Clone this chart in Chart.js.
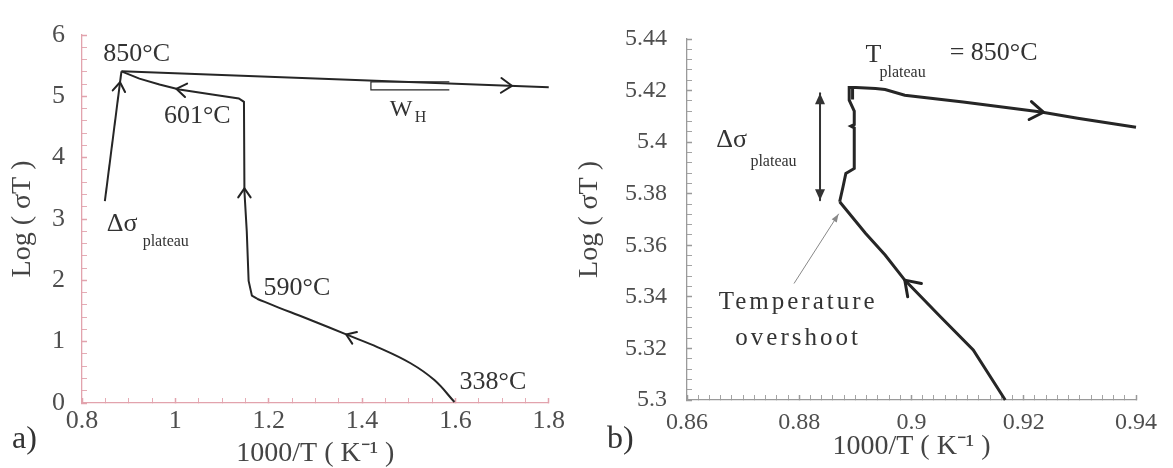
<!DOCTYPE html>
<html>
<head>
<meta charset="utf-8">
<script src="https://cdn.jsdelivr.net/npm/chart.js@4.4.1/dist/chart.umd.min.js"></script>
<style>
    html, body { margin: 0; padding: 0; background: #fff; }
    #wrap { position: relative; width: 1173px; height: 468px; overflow: hidden; }
    #boxA { position: absolute; left: 0; top: 0; width: 575px; height: 468px; }
    #boxB { position: absolute; left: 575px; top: 0; width: 598px; height: 468px; }
</style>
</head>
<body>
<div id="wrap">
    <div id="boxA"><canvas id="chartA" width="575" height="468"></canvas></div>
    <div id="boxB"><canvas id="chartB" width="598" height="468"></canvas></div>
</div>
<script>
//---------
//Данные
//---------

//Панель a: нагрев 338 -> 590 °C (плавная кривая)
const curveX_a = [1.598, 1.555, 1.504, 1.434, 1.366, 1.291, 1.264, 1.22, 1.175];
const curveY_a = [0.016, 0.373, 0.648, 0.908, 1.118, 1.35, 1.43, 1.56, 1.7];
//Панель a: 590 -> 601 -> 850 °C
const heatX_a = [1.175, 1.164, 1.157, 1.153, 1.148, 1.147, 1.136, 1.079, 1.0085, 0.966, 0.923, 0.8845];
const heatY_a = [1.7, 1.75, 1.99, 2.8, 3.45, 4.91, 4.965, 5.03, 5.111, 5.192, 5.289, 5.408];
//Панель a: участок плато
const plateauX_a = [0.849, 0.8845];
const plateauY_a = [3.29, 5.408];
//Панель a: охлаждение
const coolX_a = [0.8845, 1.3, 1.8];
const coolY_a = [5.408, 5.29, 5.15];
//Панель a: скобка W_H
const bracketX_a = [1.587, 1.419, 1.419, 1.587];
const bracketY_a = [5.235, 5.235, 5.105, 5.105];

//Панель b: подъём к плато
const lowerX_b = [0.9167, 0.911, 0.9052, 0.8988, 0.8953, 0.8918, 0.8872];
const lowerY_b = [5.3, 5.3194, 5.3322, 5.3465, 5.3562, 5.3647, 5.3769];
//Панель b: плато
const plateauX_b = [0.8872, 0.8878, 0.8883, 0.8898, 0.8898, 0.8892, 0.8898, 0.8898, 0.8889, 0.8889, 0.8895, 0.8895];
const plateauY_b = [5.3769, 5.3827, 5.3879, 5.3898, 5.4055, 5.4062, 5.4068, 5.412, 5.4163, 5.4212, 5.4212, 5.4165];
//Панель b: охлаждение
const upperX_b = [0.8889, 0.8901, 0.8936, 0.8953, 0.8988, 0.9092, 0.9231, 0.9296, 0.94];
const upperY_b = [5.4212, 5.4212, 5.4208, 5.4204, 5.4182, 5.4156, 5.4117, 5.4093, 5.4058];

//Шкалы: пределы, шаг подписей, шаг мелких делений
const axisX_a = { min: 0.8, max: 1.8, major: 0.2, minor: 0.05 };
const axisY_a = { min: 0, max: 6, major: 1, minor: 0.2 };
const axisX_b = { min: 0.86, max: 0.94, major: 0.02, minor: 0.002 };
const axisY_b = { min: 5.3, max: 5.44, major: 0.02, minor: 0.004 };

//---------
//Помощники
//---------

const SERIF = "'Liberation Serif', 'Times New Roman', serif";

const toPoints = (xs, ys) => xs.map((x, i) => ({ x, y: ys[i] }));

const isMajor = (v, ax) => Math.abs((v - ax.min) / ax.major - Math.round((v - ax.min) / ax.major)) < 1e-6;

const makeTicks = ax => {
    const res = [];
    const n = Math.round((ax.max - ax.min) / ax.minor);
    for (let i = 0; i <= n; i++) res.push({ value: +(ax.min + i * ax.minor).toFixed(6) });
    return res;
};

//Описание шкалы
const makeScale = (ax, o) => ({
    type: "linear",
    min: ax.min,
    max: ax.max,
    afterBuildTicks: s => { s.ticks = makeTicks(ax); },
    afterFit: s => { if (o.height) s.height = o.height; if (o.width) s.width = o.width; },
    border: { display: true, color: o.axisColor, width: 1.3 },
    grid: {
        drawOnChartArea: false,
        drawTicks: true,
        tickLength: -5,
        tickColor: o.axisColor,
        tickWidth: c => (c.tick && isMajor(c.tick.value, ax) ? 1.5 : 0.9)
    },
    ticks: {
        autoSkip: false,
        maxRotation: 0,
        minRotation: 0,
        padding: o.padding,
        color: "#4e4e4e",
        font: { family: SERIF, size: o.tickSize, lineHeight: 1 },
        callback: v => (isMajor(v, ax) ? String(Math.round(v * 100) / 100) : "")
    },
    title: {
        display: true,
        text: o.title,
        color: "#444",
        font: { family: SERIF, size: 28, lineHeight: 1 },
        padding: o.titlePad
    }
});

//Подписи, стрелки и указатели поверх графика
const marksPlugin = {
    id: "marks",
    afterDatasetsDraw(chart, args, opts) {
        const ctx = chart.ctx;
        const sx = chart.scales.x;
        const sy = chart.scales.y;
        const px = v => sx.getPixelForValue(v);
        const py = v => sy.getPixelForValue(v);
        ctx.save();
        //Стрелки-галочки на линиях
        (opts.chevrons || []).forEach(a => {
            const x1 = px(a.x), y1 = py(a.y), x0 = px(a.fromX), y0 = py(a.fromY);
            const ang = Math.atan2(y1 - y0, x1 - x0);
            const len = a.len, spread = 0.6;
            ctx.strokeStyle = "#222";
            ctx.lineWidth = a.width;
            ctx.lineCap = "round";
            ctx.lineJoin = "round";
            ctx.beginPath();
            ctx.moveTo(x1 - len * Math.cos(ang - spread), y1 - len * Math.sin(ang - spread));
            ctx.lineTo(x1, y1);
            ctx.lineTo(x1 - len * Math.cos(ang + spread), y1 - len * Math.sin(ang + spread));
            ctx.stroke();
        });
        //Линии-указатели с закрашенными наконечниками
        const head = (x1, y1, x0, y0, len, half, color) => {
            const ang = Math.atan2(y1 - y0, x1 - x0);
            ctx.fillStyle = color;
            ctx.beginPath();
            ctx.moveTo(x1, y1);
            ctx.lineTo(x1 - len * Math.cos(ang) + half * Math.sin(ang), y1 - len * Math.sin(ang) - half * Math.cos(ang));
            ctx.lineTo(x1 - len * Math.cos(ang) - half * Math.sin(ang), y1 - len * Math.sin(ang) + half * Math.cos(ang));
            ctx.closePath();
            ctx.fill();
        };
        (opts.pointers || []).forEach(p => {
            const x0 = px(p.x0), y0 = py(p.y0), x1 = px(p.x1), y1 = py(p.y1);
            ctx.strokeStyle = p.color;
            ctx.lineWidth = p.width;
            ctx.beginPath();
            ctx.moveTo(x0, y0);
            ctx.lineTo(x1, y1);
            ctx.stroke();
            head(x1, y1, x0, y0, p.len, p.half, p.color);
            if (p.both) head(x0, y0, x1, y1, p.len, p.half, p.color);
        });
        //Тексты
        (opts.texts || []).forEach(t => {
            ctx.font = t.font;
            ctx.fillStyle = t.color || "#333";
            ctx.textAlign = t.align || "left";
            ctx.textBaseline = "middle";
            ctx.letterSpacing = t.spacing || "0px";
            const x = t.px !== undefined ? t.px : px(t.x);
            const y = t.py !== undefined ? t.py : py(t.y);
            ctx.fillText(t.text, x, y);
        });
        ctx.restore();
    }
};

const lineSet = (xs, ys, width, tension) => ({
    data: toPoints(xs, ys),
    showLine: true,
    borderColor: "#262626",
    borderWidth: width,
    pointRadius: 0,
    fill: false,
    clip: false,
    tension: tension || 0
});

const baseOptions = (padding, scales, marks) => ({
    responsive: false,
    animation: false,
    events: [],
    layout: { padding },
    plugins: { legend: { display: false }, tooltip: { enabled: false }, marks },
    scales
});

//---------
//Панель a
//---------

const big = "26px " + SERIF;
const sub = "16px " + SERIF;

new Chart(document.getElementById("chartA"), {
    type: "scatter",
    data: {
        datasets: [
            lineSet(curveX_a, curveY_a, 2, 0.4),
            lineSet(heatX_a, heatY_a, 2),
            lineSet(plateauX_a, plateauY_a, 2),
            lineSet(coolX_a, coolY_a, 2),
            lineSet(bracketX_a, bracketY_a, 1.2)
        ]
    },
    options: baseOptions(
        { top: 33, right: 23, left: 0, bottom: 0 },
        {
            x: makeScale(axisX_a, { height: 65, axisColor: "#e2a3ad", padding: 10, tickSize: 26, title: "1000/T ( K\u207B\u00B9 )", titlePad: { top: 0, bottom: 0 } }),
            y: makeScale(axisY_a, { width: 82, axisColor: "#e2a3ad", padding: 22, tickSize: 26, title: "Log ( \u03C3T )", titlePad: { top: 9, bottom: 0 } })
        },
        {
            chevrons: [
                { x: 0.8815, y: 5.23, fromX: 0.849, fromY: 3.29, len: 11, width: 2 },
                { x: 1.721, y: 5.172, fromX: 1.3, fromY: 5.29, len: 13, width: 2 },
                { x: 1.002, y: 5.123, fromX: 1.079, fromY: 5.03, len: 12, width: 2 },
                { x: 1.148, y: 3.5, fromX: 1.148, fromY: 2.8, len: 11, width: 2 },
                { x: 1.366, y: 1.118, fromX: 1.434, fromY: 0.908, len: 11, width: 2 }
            ],
            texts: [
                { text: "850°C", x: 0.917, y: 5.69, align: "center", font: big },
                { text: "601°C", x: 1.047, y: 4.67, align: "center", font: big },
                { text: "W", x: 1.4596, y: 4.78, font: "24px " + SERIF },
                { text: "H", x: 1.5128, y: 4.65, font: sub },
                { text: "Δσ", x: 0.853, y: 2.92, font: big },
                { text: "plateau", x: 0.93, y: 2.63, font: sub },
                { text: "590°C", x: 1.189, y: 1.88, font: big },
                { text: "338°C", x: 1.609, y: 0.34, font: big },
                { text: "a)", px: 12, py: 440, font: "32px " + SERIF, color: "#333" }
            ]
        }
    ),
    plugins: [marksPlugin]
});

//---------
//Панель b
//---------

new Chart(document.getElementById("chartB"), {
    type: "scatter",
    data: {
        datasets: [
            lineSet(lowerX_b, lowerY_b, 3),
            lineSet(plateauX_b, plateauY_b, 3),
            lineSet(upperX_b, upperY_b, 3)
        ]
    },
    options: baseOptions(
        { top: 39, right: 26, left: 0, bottom: 0 },
        {
            x: makeScale(axisX_b, { height: 68, axisColor: "#9a9a9a", padding: 16, tickSize: 24, title: "1000/T ( K\u207B\u00B9 )", titlePad: { top: 0, bottom: 7 } }),
            y: makeScale(axisY_b, { width: 112, axisColor: "#9a9a9a", padding: 25, tickSize: 24, title: "Log ( \u03C3T )", titlePad: { top: 1, bottom: 0 } })
        },
        {
            chevrons: [
                { x: 0.9235, y: 5.4116, fromX: 0.9092, fromY: 5.4156, len: 16, width: 3 },
                { x: 0.8988, y: 5.3465, fromX: 0.9052, fromY: 5.3322, len: 17, width: 3 }
            ],
            pointers: [
                { x0: 0.8837, y0: 5.3775, x1: 0.8837, y1: 5.419, width: 2, len: 11, half: 5, color: "#333", both: true },
                { x0: 0.8791, y0: 5.3453, x1: 0.887, y1: 5.3721, width: 1, len: 8, half: 3, color: "#888" }
            ],
            texts: [
                { text: "T", x: 0.8918, y: 5.4337, font: big },
                { text: "plateau", x: 0.8943, y: 5.4267, font: sub },
                { text: "= 850°C", x: 0.9068, y: 5.4345, font: big },
                { text: "Δσ", x: 0.8652, y: 5.4008, font: big },
                { text: "plateau", x: 0.8713, y: 5.3922, font: sub },
                { text: "Temperature", x: 0.8798, y: 5.338, align: "center", font: "25px " + SERIF, spacing: "3px" },
                { text: "overshoot", x: 0.8798, y: 5.324, align: "center", font: "25px " + SERIF, spacing: "3px" },
                { text: "b)", px: 32, py: 440, font: "32px " + SERIF, color: "#333" }
            ]
        }
    ),
    plugins: [marksPlugin]
});
</script>
</body>
</html>
